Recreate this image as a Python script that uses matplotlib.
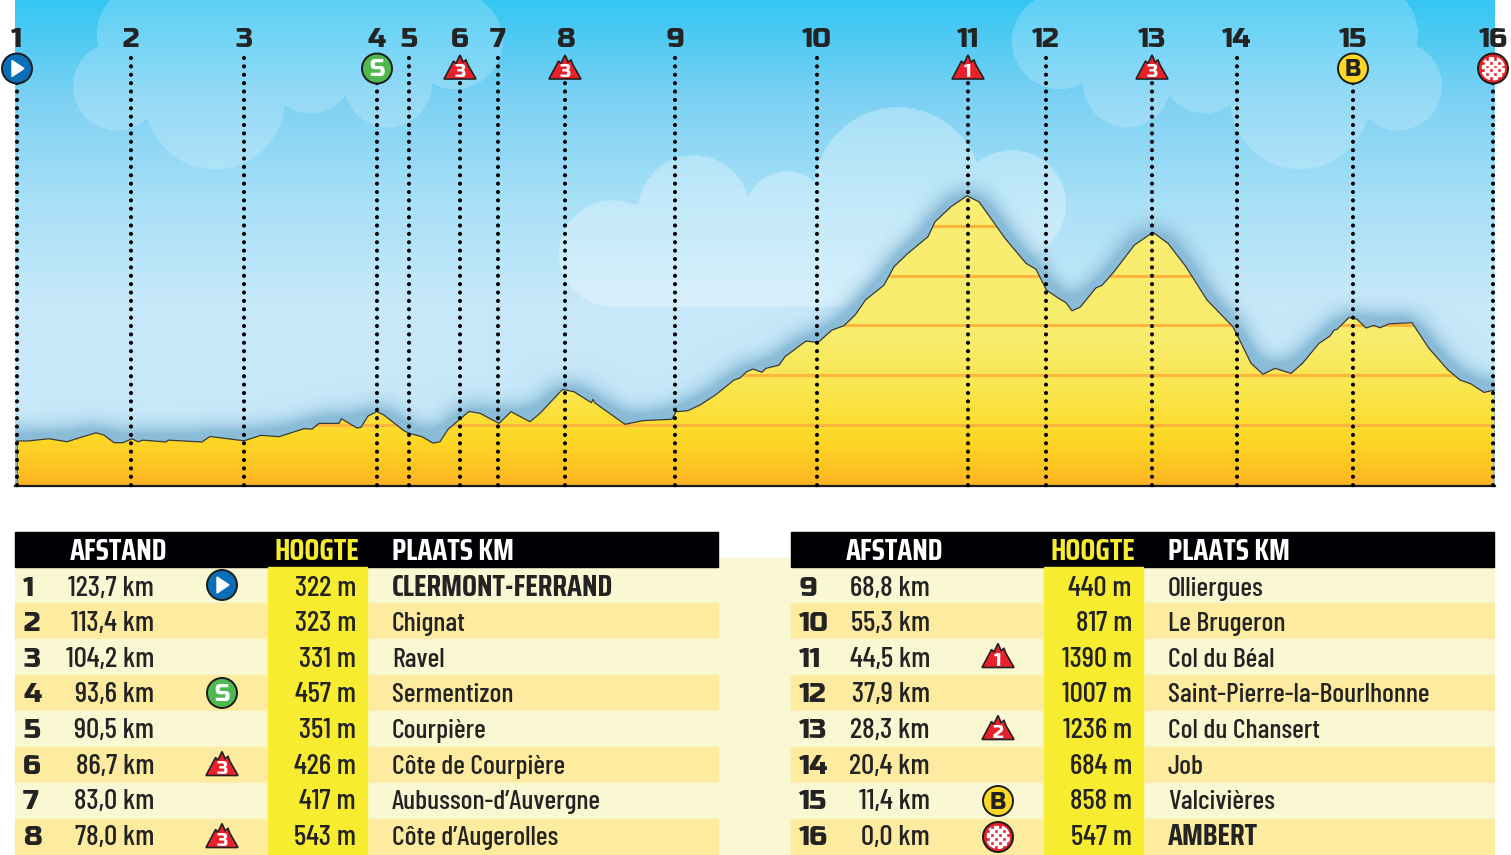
import matplotlib
matplotlib.use("Agg")
import matplotlib.pyplot as plt
from matplotlib.patches import Circle, Polygon, Rectangle
import numpy as np

W, H = 1511, 855

# profile: position along the drawn axis, altitude in metres
profile_x = [17, 27, 49, 67, 83, 96, 104, 114, 123, 132, 138, 143, 166, 168, 202, 210, 244, 261, 279, 304,
             312, 319, 339, 341.5, 357, 361, 368, 377, 384, 404, 409, 422, 433, 440, 448, 469, 480, 499, 511, 530,
             540, 562.5, 574, 591.5, 593, 595, 605, 625, 643, 672, 676, 687.5, 700, 715.5, 734, 740, 746.5, 753, 762, 766,
             779, 785, 806, 818, 832, 844, 855, 865.5, 884, 894, 907, 928, 935, 951, 967, 979, 992, 1005, 1026, 1036,
             1046.5, 1057, 1066, 1072, 1080, 1096, 1102, 1114, 1134.5, 1153, 1168, 1186, 1207, 1233, 1240.5, 1251, 1263, 1275, 1291, 1302.5,
             1319, 1330, 1334, 1337, 1349, 1357, 1366, 1374, 1380, 1389, 1412, 1429, 1448, 1460, 1471, 1484, 1494]
profile_alt = [323, 322, 332, 319, 341, 358, 348, 315, 315, 332, 319, 326, 318, 326, 318, 342, 323, 347, 341, 376,
               374, 399, 399, 419, 379, 382, 431, 451, 435, 367, 356, 341, 313, 319, 373, 451, 443, 399, 450, 406,
               443, 547, 537, 489, 504, 488, 457, 395, 411, 417, 450, 454, 479, 523, 588, 597, 624, 636, 622, 639,
               653, 690, 758, 752, 806, 825, 871, 937, 1002, 1082, 1137, 1213, 1278, 1344, 1391, 1365, 1286, 1206, 1097, 1071,
               980, 949, 925, 890, 905, 990, 1001, 1060, 1177, 1232, 1184, 1082, 937, 820, 755, 661, 613, 639, 617, 661,
               748, 780, 806, 809, 861, 853, 815, 826, 816, 833, 838, 726, 632, 588, 571, 534, 544]
grid_alt = [392, 610, 828, 1041, 1259]

stop_x = [17, 131, 244, 377, 409, 460, 498, 565, 675, 817, 968, 1046, 1152, 1237, 1353, 1493]
stop_nr = [str(i) for i in range(1, 17)]
stop_km = ["123,7", "113,4", "104,2", "93,6", "90,5", "86,7", "83,0", "78,0",
           "68,8", "55,3", "44,5", "37,9", "28,3", "20,4", "11,4", "0,0"]
stop_m = [322, 323, 331, 457, 351, 426, 417, 543, 440, 817, 1390, 1007, 1236, 684, 858, 547]
stop_name = ["CLERMONT-FERRAND", "Chignat", "Ravel", "Sermentizon", "Courpière", "Côte de Courpière",
             "Aubusson-d’Auvergne", "Côte d’Augerolles", "Olliergues", "Le Brugeron", "Col du Béal",
             "Saint-Pierre-la-Bourlhonne", "Col du Chansert", "Job", "Valcivières", "AMBERT"]
top_icon = ["start", "", "", "S", "", "3", "", "3", "", "", "1", "", "3", "", "B", "finish"]
table_icon = ["start", "", "", "S", "", "3", "", "3", "", "", "1", "", "2", "", "B", "finish"]

BODY = ["Barlow Condensed", "PT Sans Narrow", "Liberation Sans"]
HEAD = ["Saira Condensed", "Barlow Condensed", "Liberation Sans"]
WIDE = ["Russo One", "Open Sans"]
INK = "#232323"

# clouds: x, y, radius
cloud_a = [(117, 87, 44), (147, 35, 50), (215, 100, 70), (310, 70, 44), (388, 84, 44), (455, 42, 48)]
cloud_b = [(612, 254, 53), (694, 212, 56), (787, 214, 42), (898, 192, 84), (1012, 205, 54)]

fig = plt.figure(figsize=(W / 100, H / 100), dpi=100, facecolor="white")
ax = fig.add_axes([15 / W, 1 - 486 / H, 1480 / W, 486 / H])
ax.set_xlim(15, 1495)
ax.set_ylim(126, 2245)
ax.axis("off")

# sky with clouds and the blurred shadow above the profile
rows = np.arange(486) + 0.5
cols = np.arange(15, 1495) + 0.5
X, Y = np.meshgrid(cols, rows)
sky_stops = [0, 100, 200, 300, 486]
sky_rgb = [(52, 198, 243), (125, 209, 243), (168, 224, 247), (198, 232, 249), (198, 232, 249)]
sky = np.stack([np.interp(Y, sky_stops, [c[i] for c in sky_rgb]) for i in range(3)], axis=-1)


def cloud_mask(circles):
    mask = np.zeros(X.shape, dtype=bool)
    for cx, cy, r in circles:
        mask |= (X - cx) ** 2 + (Y - cy) ** 2 <= r ** 2
    return mask


top_clouds = cloud_mask(cloud_a) | cloud_mask([(1515 - c[0], c[1], c[2]) for c in cloud_a])
top_clouds |= (X > 147) & (X < 455) & (Y < 75)
top_clouds |= (X > 1060) & (X < 1368) & (Y < 75)
mid_cloud = cloud_mask(cloud_b) | ((X > 612) & (X < 950) & (Y > 205) & (Y < 307))
sky = sky + (255 - sky) * (0.2 * top_clouds + 0.3 * mid_cloud)[..., None]

alt_grid = 2245 - rows * (2245 - 126) / 486
line_alt = np.interp(cols, profile_x, profile_alt)
inside = (alt_grid[:, None] <= line_alt[None, :]).astype(float)
kernel = np.ones(31) / 31
pad = 70
blur = np.pad(inside, pad, mode="edge")
for _ in range(2):
    blur = np.apply_along_axis(lambda v: np.convolve(v, kernel, mode="same"), 0, blur)
    blur = np.apply_along_axis(lambda v: np.convolve(v, kernel, mode="same"), 1, blur)
blur = blur[pad:-pad, pad:-pad]
shade = np.clip(blur * 3.0, 0, 0.95)[..., None]
sky = sky * (1 - shade) + np.array([135, 186, 215]) * shade

extent = [15, 1495, 126, 2245]
ax.imshow(sky.astype(np.uint8), extent=extent, aspect="auto", zorder=1, interpolation="bilinear")

# yellow profile
fill_stops = [190, 340, 400, 440, 470, 486]
fill_rgb = [(248, 238, 114), (248, 236, 108), (250, 228, 70), (252, 216, 38), (253, 195, 35), (253, 178, 37)]
fill = np.stack([np.interp(Y, fill_stops, [c[i] for c in fill_rgb]) for i in range(3)], axis=-1)
outline = Polygon(list(zip(profile_x, profile_alt)) + [(1494, 126), (17, 126)], closed=True,
                  transform=ax.transData, facecolor="none", edgecolor="none")
ax.add_patch(outline)
img = ax.imshow(fill.astype(np.uint8), extent=extent, aspect="auto", zorder=2, interpolation="bilinear")
img.set_clip_path(outline)
for alt in grid_alt:
    gl = ax.axhline(alt, color="#fdb63a", lw=2.2, zorder=3)
    gl.set_clip_path(outline)
ax.plot(profile_x, profile_alt, color="#3a3a3a", lw=0.9, zorder=4)
ax.plot([17, 17], [126, profile_alt[0]], color="#777777", lw=0.8, zorder=4)
ax.plot([15, 1495], [126, 126], color="#1a1a1a", lw=1.6, zorder=5, clip_on=False)
ax.set_xlim(15, 1495)
ax.set_ylim(126, 2245)

# overlay in picture coordinates for markers and the tables
ov = fig.add_axes([0, 0, 1, 1], facecolor="none")
ov.set_xlim(0, W)
ov.set_ylim(H, 0)
ov.axis("off")


def draw_icon(kind, cx, cy):
    if kind in ("1", "2", "3"):
        base = cy + 10.5
        shape = [(-16, 0), (-8, -15), (-6.5, -18), (-4, -15.5), (0, -24), (3, -17), (6, -19), (8, -14), (16, 0)]
        ov.add_patch(Polygon([(cx + a, base + b) for a, b in shape], closed=True, facecolor="#e8212b",
                             edgecolor="#222222", lw=1.2, zorder=8))
        ov.text(cx, base - 2, kind, color="white", fontsize=13, family=WIDE,
                ha="center", va="baseline", zorder=9)
        return
    colors = {"start": "#0a6fb8", "S": "#4fb84f", "B": "#fcd824", "finish": "#e8212b"}
    ov.add_patch(Circle((cx, cy), 15, facecolor=colors[kind], edgecolor="#1c1c1c", lw=1.4, zorder=8))
    if kind == "start":
        ov.add_patch(Polygon([(cx - 5, cy - 8), (cx + 7, cy), (cx - 5, cy + 8)], closed=True, color="white", zorder=9))
    elif kind == "S":
        ov.text(cx, cy + 8, "S", color="white", fontsize=16.5, family=WIDE, ha="center",
                va="baseline", zorder=9)
    elif kind == "B":
        ov.text(cx, cy + 8, "B", color="#222222", fontsize=16.5, family=WIDE, ha="center",
                va="baseline", zorder=9)
    else:
        size = 3.8
        for i in range(-3, 3):
            for j in range(-3, 3):
                if (i + j) % 2 == 0:
                    sq = Rectangle((cx + i * size, cy + j * size), size, size, color="white", zorder=9)
                    ov.add_patch(sq)
                    sq.set_clip_path(Circle((cx, cy), 12, transform=ov.transData))


for i, x in enumerate(stop_x):
    ov.plot([x, x], [58, 486], color="black", lw=3.0, linestyle=(0, (0.01, 2.0)),
            dash_capstyle="round", zorder=6)
    ov.text(x, 47, stop_nr[i], color=INK, fontsize=20, family=WIDE,
            ha="center", va="baseline", zorder=7)
    if top_icon[i]:
        draw_icon(top_icon[i], x, 68.5)

# tables
row_edges = [567, 603, 639, 675, 711, 747, 783, 819, 855]
ov.add_patch(Rectangle((718, 558), 73, 297, color="#faf7d3", zorder=1))


def draw_table(left, right, start):
    ov.add_patch(Rectangle((left, 532), right - left, 35, color="#000005", zorder=2))
    ov.text(left + 55, 560, "AFSTAND", color="white", fontsize=21.5, family=HEAD, weight="bold", va="baseline", zorder=3)
    ov.text(left + 260, 560, "HOOGTE", color="#f8ec30", fontsize=21.5, family=HEAD, weight="bold", va="baseline", zorder=3)
    ov.text(left + 377, 560, "PLAATS KM", color="white", fontsize=21.5, family=HEAD, weight="bold", va="baseline", zorder=3)
    for r in range(8):
        top, bottom = row_edges[r], row_edges[r + 1]
        shade_col = "#faf7d3" if r % 2 == 0 else "#fdeb9f"
        ov.add_patch(Rectangle((left, top), right - left, bottom - top, color=shade_col, zorder=1))
        mid = (top + bottom) / 2
        base = 595.5 + r * 35.6
        k = start + r
        ov.text(left + 8, base, stop_nr[k], color=INK, fontsize=20, family=WIDE, va="baseline", zorder=3)
        ov.text(left + 139, base, stop_km[k] + " km", color=INK, fontsize=21, family=BODY, weight="medium",
                ha="right", va="baseline", zorder=3)
        ov.text(left + 341, base, f"{stop_m[k]} m", color=INK, fontsize=21, family=BODY, weight="medium",
                ha="right", va="baseline", zorder=3)
        bold = stop_name[k].isupper()
        if bold:
            ov.text(left + 377, base, stop_name[k], color=INK, fontsize=21.5, family=HEAD, weight="bold",
                    va="baseline", zorder=3)
        else:
            ov.text(left + 377, base, stop_name[k], color=INK, fontsize=20, family=BODY, weight="medium",
                    va="baseline", zorder=3)
        if table_icon[k]:
            draw_icon(table_icon[k], left + 207, mid)
    ov.add_patch(Rectangle((left + 253, 567), 99, 288, color="#f8ec30", zorder=2))


draw_table(15, 718, 0)
draw_table(791, 1494, 8)

fig.savefig("out.png", dpi=100)
